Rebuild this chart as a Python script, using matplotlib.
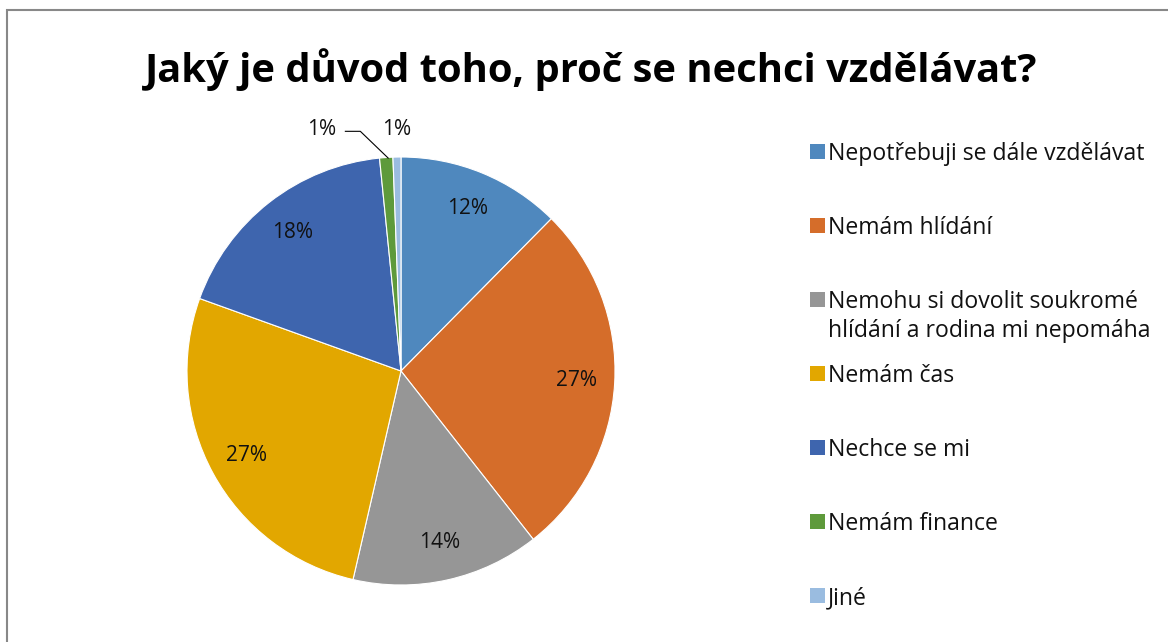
import matplotlib.pyplot as plt
from matplotlib.patches import Rectangle

# data
categories = ['Nepotřebuji se dále vzdělávat', 'Nemám hlídání',
              'Nemohu si dovolit soukromé\nhlídání a rodina mi nepomáha',
              'Nemám čas', 'Nechce se mi', 'Nemám finance', 'Jiné']
shares = [12.4, 27.0, 14.2, 26.9, 17.9, 1.0, 0.6]
colors = ['#4F88BE', '#D56D2A', '#969696', '#E2A700', '#3E65AE', '#5E9A3B', '#9ABCE0']

plt.rcParams['font.family'] = ['Open Sans', 'DejaVu Sans']

W, H = 1168, 642
fig = plt.figure(figsize=(W / 100, H / 100), dpi=100)

# chart frame
fig.patches.append(Rectangle((7 / W, -0.1), 1.2, (H - 10) / H + 0.1,
                             transform=fig.transFigure, fill=False,
                             edgecolor='#888888', linewidth=1.5))

fig.text(591 / W, 1 - 70 / H, 'Jaký je důvod toho, proč se nechci vzdělávat?',
         ha='center', va='center', fontsize=28.7, fontweight='bold')

# pie
cx, cy, r = 401, 371, 214
ax = fig.add_axes([(cx - r) / W, (H - cy - r) / H, 2 * r / W, 2 * r / H])
wedges, texts, autotexts = ax.pie(
    shares, colors=colors, startangle=90, counterclock=False,
    autopct=lambda p: '%.0f%%' % p, pctdistance=0.82,
    wedgeprops=dict(edgecolor='white', linewidth=0.8),
    textprops=dict(fontsize=15, color='#111111'))
ax.set_xlim(-1, 1)
ax.set_ylim(-1, 1)
ax.set_aspect('equal')

# small slices get outside labels
autotexts[5].set_position((-0.37, 1.13))
autotexts[6].set_position((-0.02, 1.13))
ax.plot([-0.26, -0.19, -0.06], [1.12, 1.12, 0.995], color='black',
        linewidth=0.8, clip_on=False)

# legend
for i, (lab, col) in enumerate(zip(categories, colors)):
    y = 152 + 74 * i
    fig.patches.append(Rectangle((810 / W, 1 - (y + 7) / H), 15 / W, 15 / H,
                                 transform=fig.transFigure, facecolor=col,
                                 edgecolor='none'))
    fig.text(828 / W, 1 - (y - 10) / H, lab, ha='left', va='top', fontsize=16.6,
             color='#111111', linespacing=1.3)

fig.savefig('out.png', dpi=100)
